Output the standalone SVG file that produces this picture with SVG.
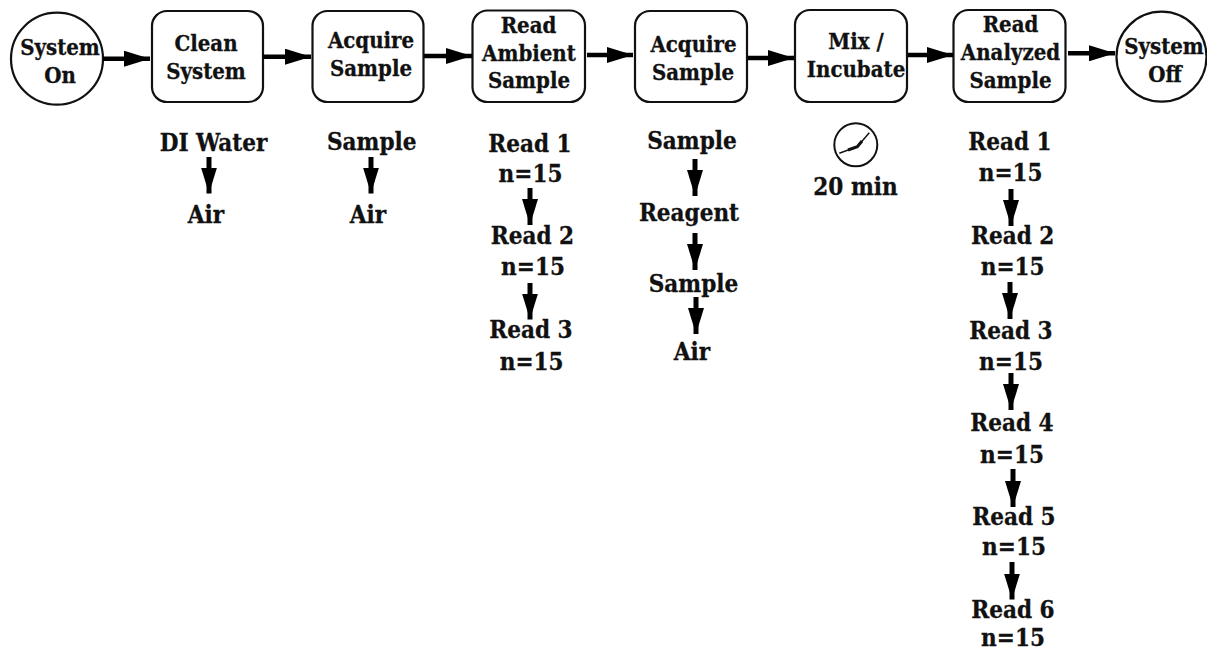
<svg xmlns="http://www.w3.org/2000/svg" width="1207" height="652" viewBox="0 0 1207 652">
<defs>
<marker id="h" markerUnits="userSpaceOnUse" markerWidth="26" markerHeight="16" refX="26" refY="8" orient="auto"><path d="M0 0L26 8L0 16Z" fill="#000"/></marker>
</defs>
<style>
text{font-family:"DejaVu Serif Condensed","DejaVu Serif",serif;font-weight:700;font-size:22px;fill:#111;text-anchor:middle;stroke:#111;stroke-width:.3}
.l text{font-size:24px}
.n{fill:#fff;stroke:#111;stroke-width:2.2}
.c{stroke:#000;stroke-width:4.500;fill:none;marker-end:url(#h)}
.d{stroke:#000;stroke-width:5;fill:none;marker-end:url(#h)}
</style>
<g id="n1"><circle class="n" cx="57" cy="58.7" r="46"/><text x="60" y="55">System</text><text x="60" y="83">On</text></g>
<g id="n2"><rect class="n" x="152" y="11" width="111" height="91" rx="15"/><text x="206" y="51">Clean</text><text x="206" y="79">System</text></g>
<g id="n3"><rect class="n" x="312.500" y="11" width="111" height="91" rx="15"/><text x="371" y="48">Acquire</text><text x="371" y="76">Sample</text></g>
<g id="n4"><rect class="n" x="472.500" y="10.500" width="112.500" height="91.500" rx="15"/><text x="528.500" y="33">Read</text><text x="529" y="61">Ambient</text><text x="529" y="88">Sample</text></g>
<g id="n5"><rect class="n" x="635" y="11" width="112" height="91" rx="15"/><text x="693.500" y="52">Acquire</text><text x="693" y="80">Sample</text></g>
<g id="n6"><rect class="n" x="795" y="10" width="112" height="92" rx="15"/><text x="856" y="49">Mix /</text><text x="856" y="77">Incubate</text></g>
<g id="n7"><rect class="n" x="953.500" y="10" width="112" height="92" rx="15"/><text x="1010.500" y="32">Read</text><text x="1010.500" y="60">Analyzed</text><text x="1010.500" y="88">Sample</text></g>
<g id="n8"><circle class="n" cx="1161.500" cy="56.700" r="45"/><text x="1164" y="54">System</text><text x="1165" y="81.500">Off</text></g>
<g id="connectors">
<path class="c" d="M103 58.700H150"/><path class="c" d="M263 56.700H311"/><path class="c" d="M424 56H472"/><path class="c" d="M587 55H633"/><path class="c" d="M748 58H794"/><path class="c" d="M908 55H953"/><path class="c" d="M1068 53.300H1115"/>
<path class="d" d="M209 157V193.500"/><path class="d" d="M371 157V193.500"/>
<path class="d" d="M530 188V225"/><path class="d" d="M530 283V319.500"/>
<path class="d" d="M695 159V196"/><path class="d" d="M695 233V270"/><path class="d" d="M696 297V334"/>
<path class="d" d="M1011 189V226"/><path class="d" d="M1010 282V319"/><path class="d" d="M1011 373V410"/><path class="d" d="M1013 469V507"/><path class="d" d="M1012 562V599.500"/>
</g>
<g id="labels" class="l">
<text x="213.500" y="151">DI Water</text><text x="206" y="223">Air</text>
<text x="371.700" y="150">Sample</text><text x="368" y="223">Air</text>
<text x="530" y="152">Read 1</text><text x="530.500" y="182">n=15</text><text x="532.500" y="244">Read 2</text><text x="533" y="275">n=15</text><text x="531" y="338">Read 3</text><text x="531.700" y="370">n=15</text>
<text x="692" y="149">Sample</text><text x="689" y="221">Reagent</text><text x="693.500" y="292">Sample</text><text x="692" y="360">Air</text>
<text x="855.500" y="195">20 min</text>
<text x="1010" y="150">Read 1</text><text x="1010.700" y="181">n=15</text><text x="1012.700" y="243.500">Read 2</text><text x="1012.700" y="275">n=15</text><text x="1011" y="338.500">Read 3</text><text x="1011" y="370">n=15</text><text x="1012" y="431">Read 4</text><text x="1012" y="462.500">n=15</text><text x="1014" y="524.500">Read 5</text><text x="1014" y="555">n=15</text><text x="1013" y="618">Read 6</text><text x="1013" y="646">n=15</text>
</g>
<g id="clock" fill="none" stroke="#111"><circle cx="855.800" cy="144.800" r="21.500" stroke-width="2"/><path d="M839.300 153.300L857.300 146.700L869.300 132.700" stroke-width="1.500"/><path d="M848 150L857.300 146.700L862 141" stroke-width="3"/></g>
</svg>
